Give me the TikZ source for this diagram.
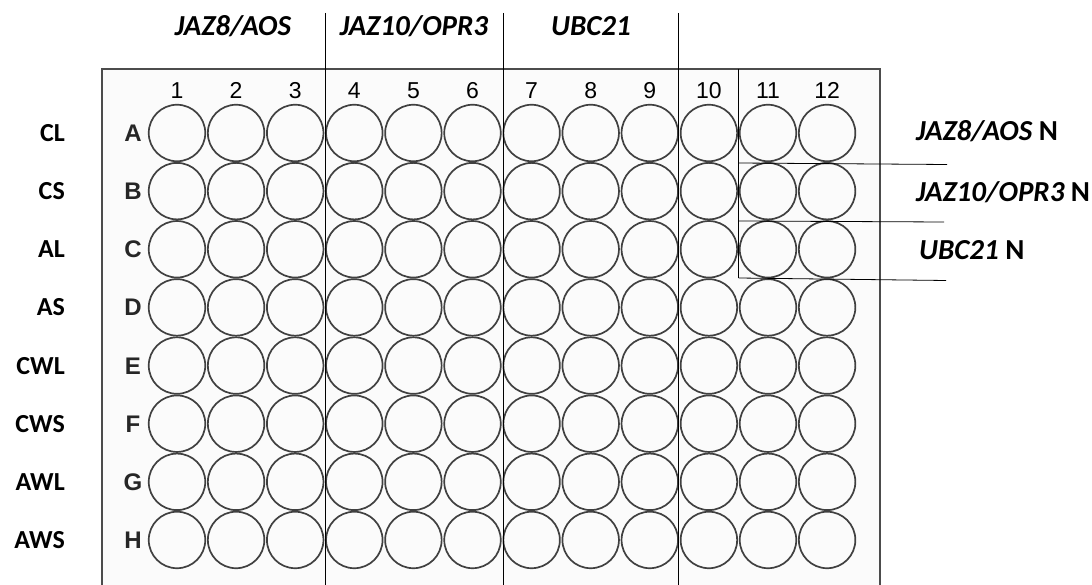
\documentclass[tikz,border=0pt]{standalone}
\usepackage{fontspec}
\setmainfont{Carlito}
\newfontfamily\arialf{Liberation Sans}
\begin{document}
\begin{tikzpicture}[x=1pt,y=-1pt,
  well/.style={circle,draw=black!75,line width=1.7pt,minimum size=56.5pt,inner sep=0pt},
  colnum/.style={font=\arialf\fontsize{23}{23}\selectfont,text=black,inner sep=0pt,anchor=base},
  rowlet/.style={font=\arialf\bfseries\fontsize{24}{24}\selectfont,text=black!85,inner sep=0pt,anchor=base},
  sidelab/.style={font=\bfseries\fontsize{26}{26}\selectfont,inner sep=0pt,anchor=base east},
  genelab/.style={font=\bfseries\itshape\fontsize{29}{29}\selectfont,inner sep=0pt,anchor=base},
  sep/.style={draw=black,line width=0.8pt},
  plate/.style={draw=black!70,line width=1.8pt}]
\useasboundingbox (0,0) rectangle (1092,585);
% plate outline (open at the bottom)
\fill[gray!3] (102,69) rectangle (880,585);
\draw[plate] (102,590) -- (102,69) -- (880,69) -- (880,590);
% wells
\foreach \r [count=\j] in {A,B,C,D,E,F,G,H} {
  \foreach \c in {1,...,12} {
    \node[well] (w\r\c) at ({177+(\c-1)*59.1},{133+(\j-1)*58.14}) {};
  }
  \node[rowlet] (row\r) at (133,{141.5+(\j-1)*58.14}) {\r};
}
\foreach \c in {1,...,12} {
  \node[colnum] (col\c) at ({177+(\c-1)*59.1},99) {\c};
}
% side labels
\foreach \t [count=\j] in {CL,CS,AL,AS,CWL,CWS,AWL,AWS} {
  \node[sidelab] (s\j) at (65,{141.5+(\j-1)*58.14}) {\t};
}
% group separators
\coordinate (v1t) at (325.5,13); \coordinate (v1b) at (325.5,585);
\coordinate (v2t) at (503,13); \coordinate (v2b) at (503,585);
\coordinate (v3t) at (678.5,13); \coordinate (v3b) at (678.5,585);
\coordinate (v4t) at (738.5,69); \coordinate (v4b) at (738.5,278);
\draw[sep] (v1t) -- (v1b);
\draw[sep] (v2t) -- (v2b);
\draw[sep] (v3t) -- (v3b);
\draw[sep] (v4t) -- (v4b);
\coordinate (h1a) at (738.5,163); \coordinate (h1b) at (947,164.5);
\coordinate (h2a) at (738.5,221); \coordinate (h2b) at (944,222);
\coordinate (h3a) at (738.5,278); \coordinate (h3b) at (946,280.5);
\draw[sep] (h1a) -- (h1b);
\draw[sep] (h2a) -- (h2b);
\draw[sep] (h3a) -- (h3b);
% gene labels top
\node[genelab] (g1) at (233,36) {JAZ8/AOS};
\node[genelab] (g2) at (414,36) {JAZ10/OPR3};
\node[genelab] (g3) at (591,36) {UBC21};
% gene labels right
\node[genelab,anchor=base west] (n1) at (916,141) {JAZ8/AOS\upshape\ N};
\node[genelab,anchor=base west] (n2) at (916,202) {JAZ10/OPR3\upshape\ N};
\node[genelab,anchor=base west] (n3) at (919,260) {UBC21\upshape\ N};
\end{tikzpicture}
\end{document}
